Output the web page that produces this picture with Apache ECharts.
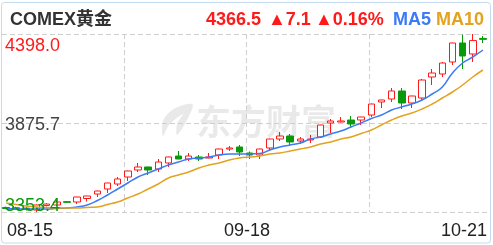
<!DOCTYPE html>
<html>
<head>
<meta charset="utf-8">
<script src="https://cdn.jsdelivr.net/npm/echarts@6/dist/echarts.min.js"></script>
<style>
html,body{margin:0;padding:0;background:#fff;}
#chart{width:493px;height:245px;}
</style>
</head>
<body>
<div id="chart"></div>
<script>
// ---- data ----
const dates = ['08-15','08-18','08-19','08-20','08-21','08-22','08-25','08-26','08-27','08-28','08-29',
  '09-01','09-02','09-03','09-04','09-05','09-08','09-09','09-10','09-11','09-12',
  '09-15','09-16','09-17','09-18','09-19','09-22','09-23','09-24','09-25','09-26',
  '09-29','09-30','10-01','10-02','10-03','10-06','10-07','10-08','10-09','10-10',
  '10-13','10-14','10-15','10-16','10-17','10-20','10-21'];
const openPrices = [3380,3378,3376,3365.1,3392,3394.5,3414,3412.1,3432.6,3459.0,3488.4,
  3517.7,3558.8,3599.9,3617.5,3605.7,3641.0,3682.0,3664.4,3676.2,3670.3,
  3687.9,3723.1,3734.9,3699.6,3687.9,3729.0,3781.8,3799.4,3770.1,3775.9,
  3793.5,3875.7,3881.6,3893.3,3893.3,3922.6,3998.9,4016.5,4063.5,3993.1,
  4022.4,4145.6,4163.3,4233.7,4345.2,4280.6,4372.0];
const closePrices = [3374,3372,3368,3394.5,3400,3412.1,3410,3441.4,3447.3,3476.6,3523.6,
  3547.1,3594.0,3617.5,3599.9,3646.8,3676.2,3664.4,3682.0,3664.4,3676.2,
  3723.1,3729.0,3705.5,3687.9,3723.1,3781.8,3799.4,3764.2,3781.8,3781.8,
  3864.0,3887.5,3887.5,3869.8,3910.9,3987.2,4010.7,4063.5,3993.1,4034.1,
  4128.0,4169.1,4227.8,4345.2,4268.9,4359.4,4366.5];
const lowPrices = [3370,3366,3362,3353.4,3386,3388.6,3407,3400.3,3415.0,3441.4,3464.9,
  3506.0,3535.3,3588.1,3570.5,3588.1,3617.5,3663,3652.7,3652.7,3669,
  3664.4,3711.4,3682.0,3664.4,3664.4,3711.4,3770.1,3746.6,3752.5,3758.3,
  3787.7,3817.0,3880,3846.4,3864.0,3910.9,3963.7,3998.9,3957.8,3963.7,
  4010.7,4098.7,4145.6,4216.1,4192.6,4233.7,4345];
const highPrices = [3385,3384,3381,3397,3405,3423.8,3416,3443,3448,3478,3525,
  3558.8,3596,3641.0,3619,3664.4,3678,3711.4,3699.6,3687.9,3699.6,
  3725,3740.7,3746.6,3708.5,3725,3783,3822.9,3811.1,3793.5,3805.3,
  3865,3899.2,3910.9,3916.8,3912,3989,4012,4081.1,4081.1,4036,
  4133.9,4192.6,4233.7,4347,4395,4398.0,4386];
const ma5 = [3373.9,3371.0,3371.0,3371.0,3371.0,3373.9,3376.9,3382.7,3394.5,3420.9,3453.2,
  3488.4,3523.6,3558.8,3582.3,3605.7,3629.2,3646.8,3664.4,3670.3,3676.2,
  3687.9,3693.8,3693.8,3693.8,3696.7,3717.3,3734.9,3746.6,3758.3,3781.8,
  3793.5,3811.1,3828.8,3852.2,3875.7,3902.1,3922.6,3952.0,3969.6,3987.2,
  4010.7,4045.9,4087.0,4169.1,4227.8,4263.0,4304.1];
const ma10 = [3406.2,3397.4,3388.6,3382.7,3379.8,3376.9,3376.9,3376.9,3379.8,3382.7,3397.4,
  3412.1,3435.6,3459.0,3488.4,3517.7,3552.9,3570.5,3588.1,3611.6,3629.2,
  3641.0,3658.6,3670.3,3676.2,3682.0,3693.8,3699.6,3711.4,3723.1,3734.9,
  3752.5,3764.2,3781.8,3793.5,3814.1,3834.6,3864.0,3893.3,3916.8,3934.4,
  3957.9,3987.2,4022.4,4057.6,4098.7,4145.7,4186.7];
const yTickLabels = ['3353.4','3875.7','4398.0'];
const xTickLabels = ['08-15','09-18','10-21'];
const titleText = 'COMEX黄金';
const lastPriceText = '4366.5';
const changeText = '▲7.1';
const pctText = '▲0.16%';
// ---- styles ----
const FONT = '"Liberation Sans", Arial, "Noto Sans CJK SC", sans-serif';
const RED = '#ff1a1a', GREEN = '#0a990a', BLUE = '#3d7bf5', ORANGE = '#e3a21f';
const yLabelColors = [GREEN, '#444', RED];
const yLabelAlign = ['bottom', 'middle', 'top'];
const yLabelShift = [3, 2, 3];
const GRIDLINE = {color:'#cfcfcf', type:[5,3], width:1};
const WM = 'rgba(0,0,0,0.085)';

const candleData = dates.map((d,i)=>[openPrices[i], closePrices[i], lowPrices[i], highPrices[i]]);
const yMin = Math.min(...lowPrices), yMax = Math.max(...highPrices);

const chart = echarts.init(document.getElementById('chart'), null, {renderer:'canvas'});
const hdrFont = 'bold 18px ' + FONT;
const baseGraphic = [
    {type:'text', x:196, y:122, z:-1, silent:true,
     style:{text:'东方财富', font:'bold 35px "Noto Sans CJK SC", sans-serif', fill:WM, verticalAlign:'middle'}},
    {type:'polygon', z:-1, silent:true,
     shape:{points:[[187,104],[172,110],[163,121],[163,136],[169,125],[183,114],[177,124],[177,135],[186,122],[193,105]], smooth:0.3},
     style:{fill:WM}},
    {type:'text', x:10, y:20, style:{text:titleText, font:hdrFont, fill:'#333', verticalAlign:'middle'}},
    {type:'text', x:206, y:20, style:{text:lastPriceText, font:hdrFont, fill:RED, verticalAlign:'middle'}},
    {type:'text', x:268, y:20, style:{text:changeText, font:hdrFont, fill:RED, verticalAlign:'middle'}},
    {type:'text', x:315, y:20, style:{text:pctText, font:hdrFont, fill:RED, verticalAlign:'middle'}},
    {type:'text', x:393, y:20, style:{text:'MA5', font:hdrFont, fill:BLUE, verticalAlign:'middle'}},
    {type:'text', x:436, y:20, style:{text:'MA10', font:hdrFont, fill:ORANGE, verticalAlign:'middle'}},
    {type:'rect', z:100, silent:true, shape:{x:1.5, y:2.5, width:489, height:240.5, r:3},
     style:{fill:'none', stroke:'#c4daee', lineWidth:1}}
];
chart.setOption({
  animation:false,
  backgroundColor:'#fff',
  grid:[
    {left:1, right:5, top:34, bottom:33},
    {left:2, right:2, top:34, bottom:33}
  ],
  xAxis:[
    {type:'category', gridIndex:0, data:dates, show:false, boundaryGap:true},
    {type:'value', gridIndex:1, min:0, max:4, interval:1, position:'bottom',
     axisLine:{show:false}, axisTick:{show:false},
     splitLine:{show:true, showMinLine:false, showMaxLine:false, lineStyle:GRIDLINE},
     axisLabel:{show:true, margin:10, fontSize:18, fontFamily:FONT, color:'#222',
       padding:[0,4,0,5], alignMinLabel:'left', alignMaxLabel:'right',
       formatter:(v)=> (v % 2 === 0 ? xTickLabels[v/2] : '')}}
  ],
  yAxis:[
    {type:'value', gridIndex:0, min:yMin, max:yMax, show:false, splitLine:{show:false}},
    {type:'value', gridIndex:1, min:0, max:2, interval:1, position:'left',
     axisLine:{show:false}, axisTick:{show:false}, axisLabel:{show:false},
     splitLine:{show:true, lineStyle:GRIDLINE}}
  ],
  graphic: baseGraphic,
  series:[
    {type:'candlestick', xAxisIndex:0, yAxisIndex:0, data:candleData, barWidth:7,
     itemStyle:{color:'#fff', color0:GREEN, borderColor:RED, borderColor0:GREEN, borderWidth:1}},
    {type:'line', xAxisIndex:0, yAxisIndex:0, data:ma5, smooth:true, showSymbol:false,
     lineStyle:{color:BLUE, width:1.5}, z:3},
    {type:'line', xAxisIndex:0, yAxisIndex:0, data:ma10, smooth:true, showSymbol:false,
     lineStyle:{color:ORANGE, width:1.5}, z:3}
  ]
});
// y tick labels placed through the value scale of the price axis
const labelGraphic = yTickLabels.map((t,i)=>{
  const py = chart.convertToPixel({yAxisIndex:0}, Number(t));
  return {type:'text', x:5, y:py + yLabelShift[i], z:10,
    style:{text:t, font:'18px ' + FONT, fill:yLabelColors[i], verticalAlign:yLabelAlign[i]}};
});
chart.setOption({graphic: baseGraphic.concat(labelGraphic)});
</script>
</body>
</html>
